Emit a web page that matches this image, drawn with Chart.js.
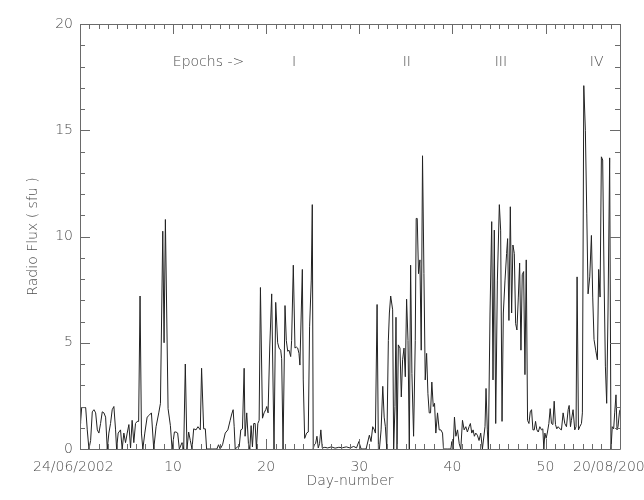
<!DOCTYPE html>
<html>
<head>
<meta charset="utf-8">
<script src="https://cdn.jsdelivr.net/npm/chart.js@4"></script>
<style>
  html, body { margin: 0; padding: 0; background: #fff; overflow: hidden; }
  #wrap { width: 720px; height: 500px; }
</style>
</head>
<body>
<div id="wrap"><canvas id="fluxChart" width="720" height="500"></canvas></div>
<script>
// day number since 24/06/2002
var days = [
  0, 0.07, 0.18, 0.43, 0.61, 0.78, 0.96, 1.14, 1.32, 1.5, 1.68, 1.86, 2.03, 2.21, 2.39, 2.57, 2.75, 2.93,
  3.1, 3.28, 3.46, 3.64, 3.82, 3.93, 4.1, 4.35, 4.53, 4.71, 4.89, 5.07, 5.25, 5.43, 5.6, 5.78, 5.96, 6.14,
  6.3, 6.45, 6.6, 6.75, 6.96, 7.21, 7.46, 7.67, 7.92, 8.17, 8.46, 8.64, 8.89, 9.03, 9.17, 9.46, 9.71, 9.89,
  10.14, 10.31, 10.49, 10.67, 10.96, 11.14, 11.31, 11.49, 11.67, 11.85, 12.03, 12.21, 12.46, 12.67, 12.92,
  13.06, 13.28, 13.46, 13.6, 14.2, 14.7, 14.88, 15.06, 15.31, 15.6, 15.88, 16.13, 16.3, 16.45,
  16.56, 16.67, 16.92, 17.1, 17.27, 17.45, 17.63, 17.73, 17.91, 18.09, 18.24, 18.38, 18.52, 18.66, 18.81,
  18.95, 19.1, 19.24, 19.38, 19.6, 19.77, 19.95, 20.06, 20.2, 20.38, 20.59, 20.84, 21.02, 21.23, 21.38,
  21.56, 21.66, 21.81, 22.02, 22.16, 22.31, 22.45, 22.63, 22.73, 22.91, 23.09, 23.23, 23.38, 23.52, 23.62,
  23.88, 23.98, 24.13, 24.34, 24.52, 24.66, 24.84, 24.95, 25.05, 25.16, 25.3, 25.45, 25.59, 25.73, 25.87,
  26.02, 26.3, 26.6, 27.0, 27.4, 27.8, 28.2, 28.6, 29.0, 29.4, 29.7, 29.95,
  30.19, 30.73, 31.08, 31.26, 31.44, 31.62, 31.73, 31.91, 32.05, 32.16, 32.34, 32.52, 32.67, 32.8, 32.95,
  33.12, 33.23, 33.37, 33.58, 33.69, 33.83, 33.94, 34.05, 34.19, 34.37, 34.51, 34.65, 34.8, 34.94, 35.08,
  35.23, 35.37, 35.51, 35.65, 35.83, 36.01, 36.11, 36.22, 36.36, 36.51, 36.65, 36.79, 36.94, 37.08, 37.23,
  37.37, 37.51, 37.65, 37.79, 37.94, 38.08, 38.22, 38.4, 38.58, 38.76, 38.94, 39.04, 39.5, 39.83, 39.94,
  40.08, 40.22, 40.37, 40.55, 40.73, 40.9, 41.08, 41.26, 41.44, 41.61, 41.79, 41.93, 42.08, 42.22, 42.36,
  42.51, 42.68, 42.86, 43.04, 43.22,
  43.5, 43.61, 43.75, 43.86, 44.04, 44.22, 44.36, 44.5, 44.65, 44.83, 45.04, 45.18, 45.33, 45.47, 45.65,
  45.82, 45.93, 46.07, 46.22, 46.36, 46.5, 46.65, 46.79, 46.93, 47.08, 47.22, 47.36, 47.5, 47.65, 47.79,
  47.93, 48.07, 48.22, 48.36, 48.5, 48.65, 48.79, 48.93, 49.07, 49.22, 49.39, 49.57, 49.71, 49.82, 49.93,
  50.07, 50.21, 50.36, 50.5, 50.64, 50.79, 50.93, 51.07, 51.21, 51.36, 51.54, 51.71, 51.89, 52.07, 52.25,
  52.43, 52.54, 52.68, 52.78, 52.96, 53.14, 53.28, 53.39, 53.54, 53.68, 53.86, 53.96, 54.11, 54.28, 54.43,
  54.57, 54.75, 54.93, 55.07, 55.21, 55.39, 55.57, 55.71, 55.86, 56.0, 56.14, 56.29, 56.43, 56.57, 56.71,
  56.89, 57.03, 57.17, 57.32, 57.43, 57.57, 57.68, 57.79, 57.93, 58.0
];
// radio flux (sfu)
var flux = [
  1.2, 1.3, 1.95, 1.95, 1.95, 0.9, 0, 0.4, 1.75, 1.85, 1.7, 0.9, 0.75, 1.2, 1.75, 1.7, 1.5, 0,
  0.75, 1.2, 1.85, 2.0, 0.9, 0, 0.75, 0.9, 0, 0.75, 0.3, 0.75, 1.15, 0.05, 1.35, 0.3, 1.2, 1.3,
  1.3, 7.2, 0.75, 0, 0.75, 1.5, 1.6, 1.7, 0, 1.05, 1.7, 2.15, 10.25, 5.0, 10.8, 1.9, 1.1, 0,
  0.8, 0.8, 0.75, 0, 0.3, 0, 4.0, 0, 0.8, 0.4, 0, 0.95, 0.9, 1.05, 0.9,
  3.8, 0.95, 0.95, 0, 0, 0, 0.2, 0, 0.2, 0.75, 0.9, 1.35, 1.65, 1.85,
  1.05, 0, 0.1, 0.1, 0.9, 0.95, 3.8, 0.6, 1.7, 0.25, 0, 1.1, 0.1, 1.2, 1.2,
  0, 1.2, 1.35, 7.6, 1.45, 1.7, 1.85, 2.0, 1.7, 4.8, 7.3, 0, 6.9, 5.0, 4.75,
  4.65, 4.25, 0, 6.75, 5.1, 4.6, 4.65, 4.35, 5.1, 8.65, 4.75, 4.8, 4.75, 4.5, 3.95,
  8.45, 3.25, 0.5, 0.75, 0.8, 5.75, 7.95, 11.5, 0, 0.2, 0.25, 0.6, 0.05, 0.25, 0.9,
  0.05, 0.08, 0.05, 0.1, 0.04, 0.08, 0.06, 0.1, 0.05, 0.12, 0.05, 0.35,
  0, 0, 0.65, 0.35, 1.05, 0.9, 0.75, 6.8, 0, 0, 0.9, 2.95, 1.5, 1.05, 0,
  5.1, 6.4, 7.2, 6.55, 0, 2.0, 6.2, 0, 4.9, 4.75, 2.45, 4.2, 4.75, 3.4, 7.05,
  5.1, 0, 8.65, 3.55, 0.6, 5.1, 10.85, 10.85, 8.25, 8.9, 4.65, 13.8, 8.25, 3.25, 4.5,
  2.6, 1.7, 1.7, 3.15, 2.0, 2.15, 0.75, 1.7, 0.9, 0.9, 0.75, 0, 0, 0, 0.35,
  0, 1.5, 0.6, 0.9, 0.25, 0, 1.35, 0.9, 1.05, 0.8, 1.05, 1.2, 0.75, 0.9, 0.6,
  0.75, 0.65, 0.4, 0.75, 0,
  1.05, 2.85, 0.9, 0, 6.4, 10.7, 3.25, 10.3, 1.2, 7.95, 11.5, 10.3, 1.3, 6.4, 7.95,
  9.2, 9.9, 6.05, 11.4, 6.4, 9.6, 9.2, 5.9, 5.6, 7.15, 8.75, 4.65, 8.2, 8.35, 3.5,
  8.9, 1.35, 1.2, 1.75, 1.85, 0.9, 0.9, 1.3, 0.9, 0.8, 1.05, 0.9, 0.95, 0, 0.75,
  0.5, 0.8, 1.2, 1.9, 1.2, 1.15, 2.25, 1.15, 0.95, 1.05, 0.95, 0.9, 1.7, 1.2, 1.05,
  1.85, 2.05, 1.05, 1.35, 1.85, 0.9, 1.05, 8.1, 0.9, 1.05, 1.2, 1.7, 17.1, 15.0, 11.1,
  7.3, 8.1, 10.05, 7.15, 5.15, 4.65, 4.2, 8.45, 7.15, 13.75, 13.6, 8.0, 3.9, 2.15, 6.4,
  13.7, 0, 1.05, 0.95, 1.7, 2.55, 0.9, 1.05, 1.7, 1.85
];

var xTickValues = [0, 10, 20, 30, 40, 50, 58];
var xTickLabels = ['24/06/2002   ', '10', '20', '30', '40', '50', '20/08/2002   '];
var yTickValues = [0, 5, 10, 15, 20];

var epochTitle = 'Epochs ->';
var epochTitleDay = 13.8;
var epochLabels = ['I', 'II', 'III', 'IV'];
var epochDays = [23.0, 35.1, 45.2, 55.5];
var epochLevel = 18.2;

var textColor = '#4d4d4d';
var axisColor = '#6a6a6a';
var fontFamily = "'DejaVu Sans', sans-serif";

// IDL style frame: box round the plot, ticks pointing inwards
var frameTicks = {
    id: 'frameTicks',
    afterDatasetsDraw: function (chart) {
        var ctx = chart.ctx;
        var a = chart.chartArea;
        var xs = chart.scales.x;
        var ys = chart.scales.y;
        ctx.save();
        ctx.strokeStyle = axisColor;
        ctx.lineWidth = 1;
        ctx.beginPath();
        ctx.rect(Math.round(a.left) + 0.5, Math.round(a.top) + 0.5,
            Math.round(a.right - a.left), Math.round(a.bottom - a.top));
        xs.ticks.forEach(function (t) {
            var px = Math.round(xs.getPixelForValue(t.value)) + 0.5;
            var len = t.value % 10 === 0 ? 10 : 5;
            ctx.moveTo(px, a.bottom);
            ctx.lineTo(px, a.bottom - len);
            ctx.moveTo(px, a.top);
            ctx.lineTo(px, a.top + len);
        });
        ys.ticks.forEach(function (t) {
            var py = Math.round(ys.getPixelForValue(t.value)) + 0.5;
            var len = t.value % 5 === 0 ? 10 : 5;
            ctx.moveTo(a.left, py);
            ctx.lineTo(a.left + len, py);
            ctx.moveTo(a.right, py);
            ctx.lineTo(a.right - len, py);
        });
        ctx.stroke();

        ctx.fillStyle = textColor;
        ctx.font = '200 14px ' + fontFamily;
        ctx.textAlign = 'center';
        ctx.textBaseline = 'middle';
        var ey = ys.getPixelForValue(epochLevel);
        ctx.fillText(epochTitle, xs.getPixelForValue(epochTitleDay), ey);
        epochLabels.forEach(function (l, i) {
            ctx.fillText(l, xs.getPixelForValue(epochDays[i]), ey);
        });
        ctx.restore();
    }
};

var points = days.map(function (d, i) { return { x: d, y: flux[i] }; });

var ctx = document.getElementById('fluxChart').getContext('2d');
var fluxChart = new Chart(ctx, {
    type: 'line',
    data: {
        datasets: [{
            label: 'Radio Flux',
            data: points,
            borderColor: '#222222',
            borderWidth: 1,
            pointRadius: 0,
            fill: false,
            tension: 0
        }]
    },
    options: {
        responsive: false,
        animation: false,
        layout: { padding: { top: 24, right: 100, left: 0, bottom: 0 } },
        plugins: {
            legend: { display: false },
            tooltip: { enabled: false }
        },
        scales: {
            x: {
                type: 'linear',
                min: 0,
                max: 58,
                grid: { display: false, drawTicks: false },
                border: { display: false },
                ticks: {
                    stepSize: 1,
                    autoSkip: false,
                    maxRotation: 0,
                    minRotation: 0,
                    padding: 10,
                    color: textColor,
                    font: { family: fontFamily, size: 14, weight: '200' },
                    callback: function (v) {
                        var i = xTickValues.indexOf(v);
                        return i >= 0 ? xTickLabels[i] : '';
                    }
                },
                title: {
                    display: true,
                    text: 'Day-number',
                    color: textColor,
                    font: { family: fontFamily, size: 14, weight: '200' },
                    padding: { top: 0, bottom: 10 }
                },
                afterFit: function (s) { s.height = 51; }
            },
            y: {
                min: 0,
                max: 20,
                grid: { display: false, drawTicks: false },
                border: { display: false },
                ticks: {
                    stepSize: 1,
                    autoSkip: false,
                    padding: 7,
                    color: textColor,
                    font: { family: fontFamily, size: 14, weight: '200' },
                    callback: function (v) {
                        return yTickValues.indexOf(v) >= 0 ? String(v) : '';
                    }
                },
                title: {
                    display: true,
                    text: 'Radio Flux ( sfu )',
                    color: textColor,
                    font: { family: fontFamily, size: 14, weight: '200' },
                    padding: { top: 25, bottom: 0 }
                },
                afterFit: function (s) { s.width = 80; }
            }
        }
    },
    plugins: [frameTicks]
});
</script>
</body>
</html>
